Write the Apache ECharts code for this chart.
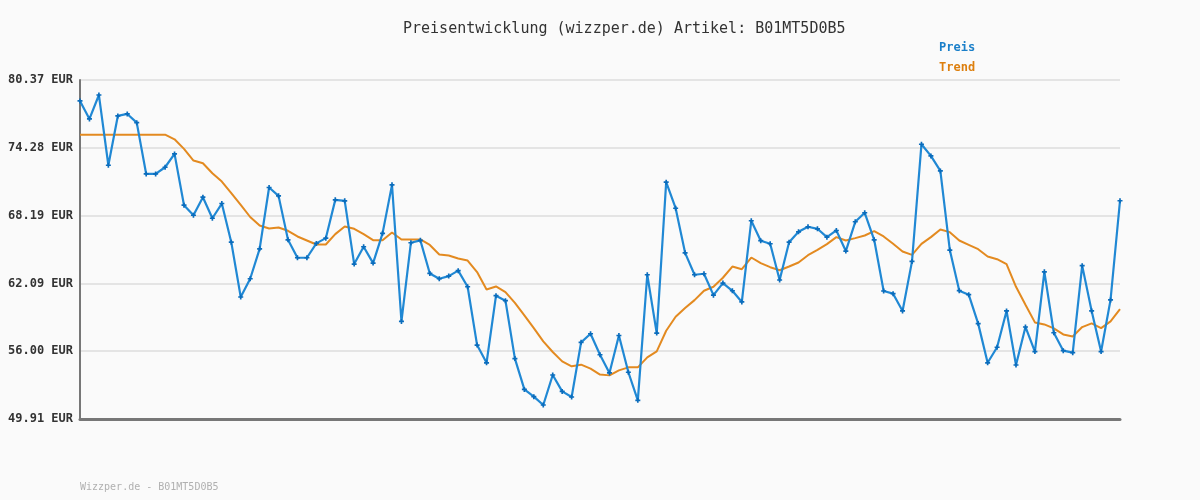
<!DOCTYPE html>
<html>
<head>
<meta charset="utf-8">
<script src="https://cdn.jsdelivr.net/npm/echarts@6/dist/echarts.min.js"></script>
<style>
  html, body { margin: 0; padding: 0; background: #fafafa; }
  #chart { width: 1200px; height: 500px; }
</style>
</head>
<body>
<div id="chart"></div>
<script>
// Preisdaten
var preis = [
  78.49, 76.87, 79.02, 72.71, 77.14, 77.32, 76.54, 71.93, 71.93, 72.53,
  73.73, 69.12, 68.22, 69.84, 67.95, 69.27, 65.80, 60.87, 62.51, 65.20,
  70.71, 69.96, 66.01, 64.40, 64.40, 65.69, 66.16, 69.60, 69.51, 63.83,
  65.39, 63.92, 66.59, 70.95, 58.68, 65.75, 65.96, 62.99, 62.51, 62.75,
  63.24, 61.79, 56.55, 54.96, 60.99, 60.54, 55.34, 52.57, 51.92, 51.17,
  53.86, 52.39, 51.89, 56.80, 57.57, 55.68, 54.05, 57.41, 54.11, 51.59,
  62.87, 57.63, 71.19, 68.85, 64.84, 62.87, 62.96, 61.04, 62.12, 61.43,
  60.43, 67.72, 65.93, 65.66, 62.40, 65.80, 66.73, 67.18, 67.00, 66.25,
  66.85, 65.00, 67.63, 68.44, 66.01, 61.41, 61.17, 59.62, 64.07, 74.60,
  73.55, 72.20, 65.09, 61.44, 61.08, 58.48, 54.96, 56.36, 59.62, 54.76,
  58.18, 55.97, 63.13, 57.66, 56.05, 55.87, 63.69, 59.62, 55.97, 60.61,
  69.52
];

var trend = [
  75.46, 75.46, 75.46, 75.46, 75.46, 75.46, 75.46, 75.46, 75.46, 75.46,
  75.04, 74.18, 73.13, 72.89, 71.99, 71.24, 70.20, 69.15, 68.06, 67.30,
  67.03, 67.12, 66.82, 66.31, 65.95, 65.59, 65.59, 66.52, 67.21, 67.00,
  66.52, 65.98, 65.98, 66.67, 66.04, 66.04, 66.04, 65.55, 64.69, 64.60,
  64.33, 64.15, 63.11, 61.55, 61.82, 61.31, 60.35, 59.22, 58.08, 56.88,
  55.93, 55.09, 54.64, 54.79, 54.43, 53.90, 53.83, 54.28, 54.55, 54.55,
  55.45, 55.99, 57.84, 59.10, 59.88, 60.59, 61.43, 61.79, 62.60, 63.61,
  63.37, 64.42, 63.91, 63.55, 63.28, 63.61, 63.97, 64.63, 65.11, 65.62,
  66.25, 65.95, 66.16, 66.40, 66.79, 66.31, 65.65, 64.96, 64.66, 65.65,
  66.25, 66.94, 66.70, 65.95, 65.56, 65.17, 64.51, 64.27, 63.82, 61.79,
  60.17, 58.59, 58.41, 58.05, 57.51, 57.33, 58.17, 58.50, 58.08, 58.68,
  59.79
];

var categories = preis.map(function (v, i) { return String(i + 1); });

// Achsenbeschriftung links
var yTicks = [49.91, 56.00, 62.09, 68.19, 74.28, 80.37];

var mono = 'DejaVu Sans Mono';
var chart = echarts.init(document.getElementById('chart'));

chart.setOption({
  backgroundColor: '#fafafa',
  animation: false,
  title: {
    text: 'Preisentwicklung (wizzper.de) Artikel: B01MT5D0B5',
    left: 398,
    top: 17,
    textStyle: {
      fontFamily: mono,
      fontSize: 15,
      fontWeight: 'normal',
      color: '#333333'
    }
  },
  legend: {
    orient: 'vertical',
    left: 929,
    top: 36,
    itemGap: 7,
    icon: 'none',
    itemWidth: 0,
    data: [
      { name: 'Preis', textStyle: { color: '#1a7fc9' } },
      { name: 'Trend', textStyle: { color: '#dd7f0e' } }
    ],
    textStyle: {
      fontFamily: mono,
      fontSize: 12,
      fontWeight: 'bold'
    }
  },
  graphic: [{
    type: 'text',
    left: 80,
    top: 482,
    style: {
      text: 'Wizzper.de - B01MT5D0B5',
      font: '10px "DejaVu Sans Mono"',
      fill: '#b0b0b0'
    }
  }],
  grid: {
    left: 80,
    right: 80,
    top: 80,
    bottom: 81,
    containLabel: false
  },
  xAxis: {
    type: 'category',
    boundaryGap: false,
    data: categories,
    axisLine: { lineStyle: { color: '#777777', width: 3 } },
    axisTick: { show: false },
    axisLabel: { show: false },
    splitLine: { show: false }
  },
  yAxis: {
    type: 'value',
    min: yTicks[0],
    max: yTicks[yTicks.length - 1],
    interval: (yTicks[yTicks.length - 1] - yTicks[0]) / (yTicks.length - 1),
    axisLine: { show: true, lineStyle: { color: '#777777', width: 2 } },
    axisTick: { show: false },
    axisLabel: {
      margin: 7,
      fontFamily: mono,
      fontSize: 12,
      fontWeight: 'bold',
      color: '#333333',
      formatter: function (v) { return v.toFixed(2) + ' EUR'; }
    },
    splitLine: { show: true, lineStyle: { color: '#e4e4e4', width: 2 } }
  },
  series: [{
    name: 'Preis',
    type: 'line',
    data: preis,
    color: '#1a7fc9',
    symbol: 'path://M2,0H4V2H6V4H4V6H2V4H0V2H2Z',
    symbolSize: 5,
    showSymbol: true,
    lineStyle: { width: 2.2, color: '#2088d4' },
    itemStyle: { color: '#0a6cbc' },
    z: 3
  }, {
    name: 'Trend',
    type: 'line',
    data: trend,
    color: '#dd7f0e',
    showSymbol: false,
    symbol: 'none',
    lineStyle: { width: 2, color: '#e38a20' },
    z: 2
  }]
});
</script>
</body>
</html>
